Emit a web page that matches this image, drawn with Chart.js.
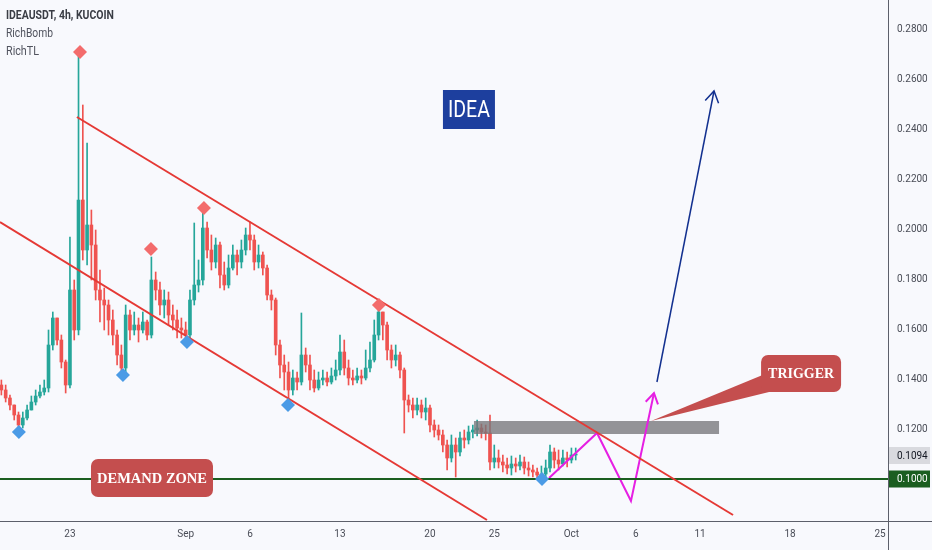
<!DOCTYPE html>
<html>
<head>
<meta charset="utf-8">
<script src="https://cdn.jsdelivr.net/npm/chart.js@4.4.0/dist/chart.umd.min.js"></script>
<style>
  html, body { margin: 0; padding: 0; background: #f8f9fd; }
  #wrap { width: 932px; height: 550px; position: relative; }
</style>
</head>
<body>
<div id="wrap"><canvas id="chart"></canvas></div>
<script>
// x values are days counted from Aug 23; candles are 8h apart
const firstCandleDay = -16 / 3;
const candleStep = 1 / 3;
const firstOpen = 0.1376;

const closes = [
  0.1356, 0.1324, 0.1296, 0.1256, 0.1216, 0.1244, 0.1276, 0.1308, 0.1332, 0.1348,
  0.1364, 0.1536, 0.1644, 0.1556, 0.1468, 0.1376, 0.1756, 0.1596, 0.2116, 0.1916,
  0.2016, 0.1936, 0.1756, 0.1716, 0.1696, 0.1636, 0.1576, 0.1496, 0.1444, 0.1656,
  0.1596, 0.1616, 0.1596, 0.1628, 0.1576, 0.1796, 0.1756, 0.1696, 0.1716, 0.1656,
  0.1636, 0.1604, 0.1596, 0.1576, 0.1716, 0.1776, 0.1796, 0.2004, 0.1916, 0.1868,
  0.1936, 0.1816, 0.1776, 0.1844, 0.1896, 0.1868, 0.1916, 0.1976, 0.1956, 0.1868,
  0.1896, 0.1844, 0.1736, 0.1716, 0.1536, 0.1456, 0.1428, 0.1356, 0.1404, 0.1388,
  0.1496, 0.1456, 0.1396, 0.1364, 0.1396, 0.1404, 0.1388, 0.1412, 0.1436, 0.1508,
  0.1444, 0.1404, 0.1396, 0.1412, 0.1404, 0.1444, 0.1476, 0.1576, 0.1668, 0.1616,
  0.1516, 0.1476, 0.1496, 0.1436, 0.1316, 0.1296, 0.1276, 0.1296, 0.1268, 0.1284,
  0.1216, 0.1196, 0.1176, 0.1136, 0.1084, 0.1136, 0.1108, 0.1164, 0.1156, 0.1188,
  0.1196, 0.1204, 0.1188, 0.1184, 0.1068, 0.1084, 0.1068, 0.1056, 0.1044, 0.1060,
  0.1052, 0.1068, 0.1044, 0.1036, 0.1028, 0.1016, 0.1020, 0.1044, 0.1108, 0.1076,
  0.1060, 0.1084, 0.1076, 0.1096, 0.1100
];
const highs = [
  0.1396, 0.1376, 0.1336, 0.1296, 0.1268, 0.1268, 0.1296, 0.1332, 0.1356, 0.1376,
  0.1396, 0.1596, 0.1668, 0.1644, 0.1576, 0.1476, 0.1968, 0.1796, 0.2704, 0.2496,
  0.2344, 0.2076, 0.1996, 0.1836, 0.1764, 0.1716, 0.1676, 0.1596, 0.1536, 0.1696,
  0.1676, 0.1668, 0.1644, 0.1668, 0.1636, 0.1888, 0.1828, 0.1788, 0.1756, 0.1748,
  0.1696, 0.1676, 0.1644, 0.1628, 0.1756, 0.2024, 0.1876, 0.2064, 0.2028, 0.1976,
  0.1964, 0.1948, 0.1868, 0.1896, 0.1936, 0.1916, 0.1956, 0.2004, 0.2028, 0.1976,
  0.1936, 0.1908, 0.1856, 0.1756, 0.1724, 0.1556, 0.1496, 0.1468, 0.1436, 0.1428,
  0.1664, 0.1524, 0.1496, 0.1436, 0.1428, 0.1436, 0.1428, 0.1444, 0.1476, 0.1576,
  0.1556, 0.1476, 0.1436, 0.1444, 0.1436, 0.1516, 0.1548, 0.1636, 0.1684, 0.1668,
  0.1628, 0.1536, 0.1536, 0.1508, 0.1444, 0.1336, 0.1324, 0.1324, 0.1316, 0.1324,
  0.1296, 0.1236, 0.1216, 0.1196, 0.1156, 0.1176, 0.1164, 0.1188, 0.1196, 0.1212,
  0.1216, 0.1236, 0.1220, 0.1216, 0.1256, 0.1136, 0.1116, 0.1096, 0.1084, 0.1092,
  0.1084, 0.1096, 0.1088, 0.1068, 0.1056, 0.1044, 0.1052, 0.1076, 0.1136, 0.1124,
  0.1116, 0.1116, 0.1108, 0.1124, 0.1124
];
const lows = [
  0.1336, 0.1308, 0.1276, 0.1236, 0.1196, 0.1204, 0.1236, 0.1276, 0.1296, 0.1324,
  0.1336, 0.1348, 0.1516, 0.1536, 0.1444, 0.1344, 0.1364, 0.1556, 0.1576, 0.1876,
  0.1856, 0.1796, 0.1716, 0.1628, 0.1596, 0.1576, 0.1536, 0.1456, 0.1404, 0.1428,
  0.1556, 0.1576, 0.1548, 0.1584, 0.1556, 0.1564, 0.1716, 0.1656, 0.1644, 0.1616,
  0.1596, 0.1564, 0.1564, 0.1548, 0.1564, 0.1696, 0.1748, 0.1776, 0.1884, 0.1836,
  0.1844, 0.1764, 0.1756, 0.1764, 0.1836, 0.1816, 0.1844, 0.1896, 0.1916, 0.1836,
  0.1844, 0.1816, 0.1716, 0.1676, 0.1496, 0.1404, 0.1356, 0.1324, 0.1336, 0.1356,
  0.1376, 0.1428, 0.1356, 0.1348, 0.1356, 0.1376, 0.1372, 0.1380, 0.1396, 0.1416,
  0.1416, 0.1376, 0.1376, 0.1384, 0.1380, 0.1396, 0.1428, 0.1468, 0.1556, 0.1556,
  0.1476, 0.1444, 0.1452, 0.1404, 0.1184, 0.1268, 0.1244, 0.1256, 0.1244, 0.1236,
  0.1188, 0.1168, 0.1156, 0.1108, 0.1036, 0.1068, 0.1008, 0.1092, 0.1124, 0.1140,
  0.1164, 0.1172, 0.1164, 0.1156, 0.1036, 0.1044, 0.1044, 0.1028, 0.1020, 0.1016,
  0.1028, 0.1036, 0.1020, 0.1012, 0.1008, 0.1004, 0.1000, 0.1004, 0.1028, 0.1044,
  0.1036, 0.1052, 0.1048, 0.1064, 0.1076
];

const tickDays = [0, 9, 14, 21, 28, 33, 39, 44, 49, 56, 63];
const tickLabels = ['23', 'Sep', '6', '13', '20', '25', 'Oct', '6', '11', '18', '25'];
const priceTicks = [0.12, 0.14, 0.16, 0.18, 0.20, 0.22, 0.24, 0.26, 0.28];
const lastPrice = 0.1094;
const demandLevel = 0.1000;

// drawings, in [day, price]
const upperChannel = [[0.54, 0.2448], [51.57, 0.0856]];
const lowerChannel = [[-5.44, 0.2028], [32.43, 0.0836]];
const triggerZone = [31.42, 50.48, 0.1232, 0.1180];
const projectionPath = [[37.26, 0.1004], [40.99, 0.1184], [43.63, 0.0912], [45.42, 0.1344]];
const targetArrow = [[45.65, 0.1388], [50.09, 0.2552]];
const topMarks = [[0.78, 0.2708], [6.30, 0.1920], [10.42, 0.2084], [24.03, 0.1696]];
const bottomMarks = [[-3.97, 0.1188], [4.12, 0.1416], [9.10, 0.1548], [16.96, 0.1296], [36.71, 0.1000]];

const UP = '#26a69a';
const DOWN = '#ef5350';

const wicks = [];
const bodies = [];
const candleColors = [];
closes.forEach((c, i) => {
    const t = firstCandleDay + i * candleStep;
    const o = i === 0 ? firstOpen : closes[i - 1];
    wicks.push({ x: t, y: [lows[i], highs[i]] });
    bodies.push({ x: t, y: [o, c] });
    candleColors.push(c >= o ? UP : DOWN);
});

const toPts = arr => arr.map(p => ({ x: p[0], y: p[1] }));

function roundBox(ctx, x, y, w, h, r) {
    ctx.beginPath();
    ctx.moveTo(x + r, y);
    ctx.arcTo(x + w, y, x + w, y + h, r);
    ctx.arcTo(x + w, y + h, x, y + h, r);
    ctx.arcTo(x, y + h, x, y, r);
    ctx.arcTo(x, y, x + w, y, r);
    ctx.closePath();
}

function arrowHead(ctx, x0, y0, x1, y1, len, color, width) {
    const a = Math.atan2(y1 - y0, x1 - x0);
    ctx.strokeStyle = color;
    ctx.lineWidth = width;
    ctx.beginPath();
    ctx.moveTo(x1 - len * Math.cos(a - 0.55), y1 - len * Math.sin(a - 0.55));
    ctx.lineTo(x1, y1);
    ctx.lineTo(x1 - len * Math.cos(a + 0.55), y1 - len * Math.sin(a + 0.55));
    ctx.stroke();
}

function priceTag(ctx, left, y, text, bg, fg) {
    ctx.fillStyle = bg;
    ctx.fillRect(left + 1, y - 8.5, 41, 17);
    ctx.fillStyle = fg;
    ctx.font = '10px Roboto';
    ctx.textAlign = 'left';
    ctx.textBaseline = 'middle';
    ctx.fillText(text, left + 9, y + 0.5);
}

const overlay = {
    id: 'overlay',
    beforeDraw(chart) {
        const ctx = chart.ctx;
        ctx.save();
        ctx.fillStyle = '#f8f9fd';
        ctx.fillRect(0, 0, chart.width, chart.height);
        ctx.restore();
    },
    afterDatasetDraw(chart, args) {
        if (args.index !== 1) return;
        const ctx = chart.ctx, xs = chart.scales.x, ys = chart.scales.y;
        const x0 = xs.getPixelForValue(triggerZone[0]);
        const x1 = xs.getPixelForValue(triggerZone[1]);
        const y0 = ys.getPixelForValue(triggerZone[2]);
        const y1 = ys.getPixelForValue(triggerZone[3]);
        ctx.save();
        ctx.fillStyle = 'rgba(118, 118, 122, 0.78)';
        ctx.fillRect(x0, y0, x1 - x0, y1 - y0);
        ctx.restore();
    },
    afterDatasetsDraw(chart) {
        const ctx = chart.ctx, xs = chart.scales.x, ys = chart.scales.y;
        const area = chart.chartArea;
        const px = d => xs.getPixelForValue(d);
        const py = v => ys.getPixelForValue(v);
        ctx.save();

        // arrow heads
        const mp = projectionPath.slice(-2);
        arrowHead(ctx, px(mp[0][0]), py(mp[0][1]), px(mp[1][0]), py(mp[1][1]), 12, '#e61fe3', 2);
        arrowHead(ctx, px(targetArrow[0][0]), py(targetArrow[0][1]), px(targetArrow[1][0]), py(targetArrow[1][1]), 13, '#12308f', 1.5);

        // IDEA
        const ix = px(31.03), iy = py(0.2478);
        ctx.fillStyle = '#1d3f9e';
        ctx.fillRect(ix - 26, iy - 19.5, 52, 39);
        ctx.fillStyle = '#ffffff';
        ctx.font = '24px Roboto';
        ctx.textAlign = 'center';
        ctx.textBaseline = 'middle';
        ctx.fillText('IDEA', ix, iy + 1, 42);

        // DEMAND ZONE
        const dx = px(6.38), dy = py(0.1004);
        ctx.fillStyle = '#c44e4e';
        roundBox(ctx, dx - 61, dy - 19, 122, 38, 7);
        ctx.fill();
        ctx.fillStyle = '#ffffff';
        ctx.font = 'bold 15px "Liberation Serif"';
        ctx.fillText('DEMAND ZONE', dx, dy + 1, 110);

        // TRIGGER with pointer
        const tx = px(56.86), ty = py(0.1422);
        ctx.fillStyle = '#c44e4e';
        ctx.beginPath();
        ctx.moveTo(px(45.19), py(0.1232));
        ctx.lineTo(tx - 30, ty - 2);
        ctx.lineTo(tx - 30, ty + 18);
        ctx.closePath();
        ctx.fill();
        roundBox(ctx, tx - 40, ty - 18.5, 80, 37, 7);
        ctx.fill();
        ctx.fillStyle = '#ffffff';
        ctx.fillText('TRIGGER', tx, ty + 1, 66);

        // axis frame lines
        ctx.strokeStyle = '#5d606b';
        ctx.lineWidth = 1;
        ctx.beginPath();
        ctx.moveTo(0, area.bottom + 0.5);
        ctx.lineTo(chart.width, area.bottom + 0.5);
        ctx.moveTo(area.right + 0.5, 0);
        ctx.lineTo(area.right + 0.5, chart.height);
        ctx.stroke();

        // axis labels
        ctx.fillStyle = '#4a4d57';
        ctx.font = '10px Roboto';
        ctx.textAlign = 'center';
        ctx.textBaseline = 'middle';
        tickDays.forEach((d, i) => ctx.fillText(tickLabels[i], px(d), area.bottom + 13));
        ctx.textAlign = 'left';
        priceTicks.forEach(v => ctx.fillText(v.toFixed(4), area.right + 9, py(v)));

        // price tags
        priceTag(ctx, area.right, py(lastPrice), lastPrice.toFixed(4), '#d9dadf', '#131722');
        priceTag(ctx, area.right, py(demandLevel), demandLevel.toFixed(4), '#1b5e20', '#ffffff');

        // legend text
        ctx.textAlign = 'left';
        ctx.textBaseline = 'middle';
        ctx.fillStyle = '#3a3d45';
        ctx.font = 'bold 12px Roboto';
        ctx.fillText('IDEAUSDT, 4h, KUCOIN', 6, 16, 108);
        ctx.fillStyle = '#50535e';
        ctx.font = '12px Roboto';
        ctx.fillText('RichBomb', 6, 34, 47);
        ctx.fillText('RichTL', 6, 52, 33);
        ctx.restore();
    }
};

const lineSet = (pts, color, width) => ({
    type: 'line',
    data: toPts(pts),
    borderColor: color,
    borderWidth: width,
    pointRadius: 0,
    fill: false,
    tension: 0,
    order: 5
});

const xMin = -5.44, xMax = 63.62;

new Chart(document.getElementById('chart'), {
    type: 'bar',
    data: {
        datasets: [
            {
                data: wicks,
                backgroundColor: candleColors,
                barThickness: 1,
                grouped: false,
                order: 9
            },
            {
                data: bodies,
                backgroundColor: candleColors,
                barThickness: 3,
                minBarLength: 1,
                grouped: false,
                order: 8
            },
            lineSet(upperChannel, '#e53935', 2),
            lineSet(lowerChannel, '#e53935', 2),
            lineSet([[xMin, demandLevel], [xMax, demandLevel]], '#1b5e20', 2),
            lineSet(projectionPath, '#e61fe3', 2),
            lineSet(targetArrow, '#12308f', 1.5),
            {
                type: 'scatter',
                data: toPts(topMarks),
                pointStyle: 'rectRot',
                pointRadius: 7,
                backgroundColor: '#f36c6c',
                borderWidth: 0,
                order: 1
            },
            {
                type: 'scatter',
                data: toPts(bottomMarks),
                pointStyle: 'rectRot',
                pointRadius: 7,
                backgroundColor: '#4b9be6',
                borderWidth: 0,
                order: 1
            }
        ]
    },
    options: {
        responsive: true,
        maintainAspectRatio: false,
        animation: false,
        layout: { padding: 0, autoPadding: false },
        plugins: {
            legend: { display: false },
            tooltip: { enabled: false }
        },
        scales: {
            x: {
                type: 'linear',
                min: xMin,
                max: xMax,
                offset: false,
                grid: { display: false, drawTicks: false },
                border: { display: false },
                ticks: { display: false },
                afterFit: s => { s.height = 29; }
            },
            y: {
                position: 'right',
                min: 0.0832,
                max: 0.2916,
                grid: { display: false, drawTicks: false },
                border: { display: false },
                ticks: { display: false },
                afterFit: s => { s.width = 44; }
            }
        }
    },
    plugins: [overlay]
});
</script>
</body>
</html>
